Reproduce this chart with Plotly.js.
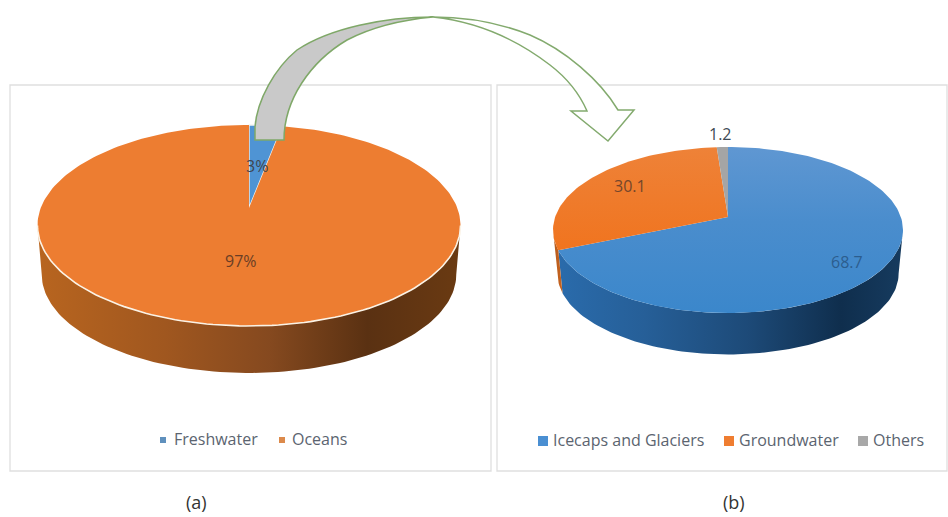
<!DOCTYPE html>
<html><head><meta charset="utf-8">
<script src="https://cdn.plot.ly/plotly-3.0.1.min.js"></script>
<style>html,body{margin:0;padding:0;background:#fff}</style></head>
<body><div id="chart" style="width:948px;height:517px"></div>
<script>
const categoriesA = ["Freshwater", "Oceans"];
const valuesA = [3, 97];
const categoriesB = ["Icecaps and Glaciers", "Groundwater", "Others"];
const valuesB = [68.7, 30.1, 1.2];

const FONT = "Open Sans, sans-serif";
const traces = [];
const annotations = [];

// Tilted-disc projection: clockwise angle from 12 o'clock onto the page.
function makePie(g) {
  const k = ((g.hub - g.top) - (g.bottom - g.hub)) / ((g.hub - g.top) + (g.bottom - g.hub));
  const a = (g.bottom - g.hub) * (1 + k);
  const c = g.rx * Math.sqrt(1 - k * k);
  const midY = (g.top + g.bottom) / 2;
  const pt = t => {
    const r = t * Math.PI / 180, u = Math.sin(r), v = -Math.cos(r), w = 1 + k * v;
    return [g.cx + c * u / w, g.hub + a * v / w];
  };
  const low = t => {
    const p = pt(t);
    return [g.cx + (p[0] - g.cx) * g.shrink, midY + (p[1] - midY) * g.shrink + g.depth];
  };
  // angle at which the projected disc is widest: the side wall begins there
  const d = midY - g.hub;
  const wide = Math.acos(-d / (a - k * d)) * 180 / Math.PI;
  return {pt, low, wide};
}
function arc(fn, t0, t1) {
  const n = Math.max(2, Math.ceil(Math.abs(t1 - t0) / 1.5)), out = [];
  for (let i = 0; i <= n; i++) out.push(fn(t0 + (t1 - t0) * i / n));
  return out;
}
function poly(pts, extra) {
  traces.push(Object.assign({
    type: "scatter", mode: "lines", fill: "toself", hoverinfo: "skip", showlegend: false,
    x: pts.map(p => p[0]), y: pts.map(p => p[1]), line: {width: 0}
  }, extra));
}
function drawPie(g, values, tops, walls) {
  const P = makePie(g);
  const total = values.reduce((s, v) => s + v, 0);
  let acc = 0;
  const spans = values.map(v => { const s = [acc, acc + v / total * 360]; acc = s[1]; return s; });
  // side wall: only the front of the disc shows
  spans.forEach((s, i) => {
    const t0 = Math.max(s[0], P.wide), t1 = Math.min(s[1], 360 - P.wide);
    if (t1 <= t0) return;
    const pts = arc(P.pt, t0, t1).concat(arc(P.low, t1, t0));
    poly(pts, {fillgradient: {type: "horizontal", colorscale: walls[i]}, fillcolor: walls[i][0][1]});
  });
  // top faces
  spans.forEach((s, i) => {
    const pts = [[g.cx, g.hub]].concat(arc(P.pt, s[0], s[1]));
    pts.push([g.cx, g.hub]);
    const extra = {line: g.edge && i === 0 ? {width: 1.3, color: "#f4f4f0"} : {width: 0}};
    if (Array.isArray(tops[i])) { extra.fillgradient = {type: "vertical", colorscale: tops[i]}; extra.fillcolor = tops[i][0][1]; }
    else extra.fillcolor = tops[i];
    poly(pts, extra);
  });
  if (g.edge) {
    const rim = arc(P.pt, P.wide, 360 - P.wide);
    traces.push({type: "scatter", mode: "lines", hoverinfo: "skip", showlegend: false,
      x: rim.map(p => p[0]), y: rim.map(p => p[1]), line: {color: "#fbf3e6", width: 1.6}});
  }
}

drawPie({cx: 249, top: 125, hub: 208, bottom: 326, rx: 211.5, depth: 49, shrink: 0.98, edge: true},
  valuesA,
  ["#4f94d4", "#ed7d31"],
  [[[0, "#2f6ca3"], [1, "#1d4a75"]],
   [[0, "#b8651f"], [0.3, "#a0571f"], [0.55, "#85491f"], [0.78, "#5a3112"], [1, "#6a3a12"]]]);

drawPie({cx: 728, top: 147, hub: 217, bottom: 313, rx: 175, depth: 43.5, shrink: 0.975, edge: false},
  valuesB,
  [[[0, "#3b87cb"], [0.55, "#4a8dcd"], [1, "#5f97d2"]],
   [[0, "#f0741f"], [1, "#ee8238"]],
   "#a5a5a5"],
  [[[0, "#2a6bab"], [0.25, "#265f98"], [0.55, "#1d4a78"], [0.82, "#0f2e4d"], [1, "#163b5f"]],
   [[0, "#b55a1c"], [1, "#c8641f"]],
   [[0, "#888"], [1, "#888"]]]);

// value labels
function label(x, y, text, color, size) {
  annotations.push({x, y, xref: "x", yref: "y", text, showarrow: false, xanchor: "center", yanchor: "middle",
    font: {family: FONT, size: size || 16, color}});
}
label(257, 166, valuesA[0] + "%", "#3f4650");
label(241, 261, valuesA[1] + "%", "#6a3d25");
label(847, 262, String(valuesB[0]), "#2c5d8e");
label(630, 186, String(valuesB[1]), "#74462b");
label(720, 134, String(valuesB[2]), "#404a55");

// key entries
function key(sx, sy, size, color, tx, text) {
  traces.push({type: "scatter", mode: "markers", hoverinfo: "skip", showlegend: false, x: [sx], y: [sy],
    marker: {symbol: "square", size, color, line: {width: 0}}});
  annotations.push({x: tx, y: sy - 1, xref: "x", yref: "y", text, showarrow: false, xanchor: "left", yanchor: "middle",
    xshift: -2, font: {family: FONT, size: 16, color: "#5b6470"}});
}
key(163, 440, 6, "#5f90bd", 174, categoriesA[0]);
key(282, 440, 6, "#dc8a4b", 292, categoriesA[1]);
key(543, 441, 10, "#4a8fd2", 553, categoriesB[0]);
key(729, 441, 10, "#ef7d31", 739, categoriesB[1]);
key(863, 441, 10, "#a8a8a8", 873, categoriesB[2]);

label(196, 502, "(a)", "#333", 18);
label(734, 502, "(b)", "#333", 18);

const frame = {color: "#dfdfdf", width: 1.3};
const shapes = [
  {type: "rect", xref: "x", yref: "y", x0: 10, x1: 491, y0: 85, y1: 471, line: frame, layer: "below"},
  {type: "rect", xref: "x", yref: "y", x0: 497, x1: 947, y0: 85, y1: 471, line: frame, layer: "below"},
  {type: "path", xref: "x", yref: "y", layer: "above", fillcolor: "#ffffff", line: {color: "#83aa6e", width: 1.5},
   path: "M 433,17 C 465,17 500,23 530,35 C 565,50 600,80 618,110 L 634,110 L 608,141 L 571,111 L 587,111 C 580,95 567,78 550,65 C 520,42 480,22 433,17 Z"},
  {type: "path", xref: "x", yref: "y", layer: "above", fillcolor: "#c9c9c9", line: {color: "#7fa868", width: 1.5},
   path: "M 255,140 L 255,127 C 257,100 275,68 297,50 C 330,28 385,17 433,17 C 400,20 372,27 347,40 C 310,62 284,100 284,140 Z"}
];

Plotly.newPlot("chart", traces, {
  width: 948, height: 517, autosize: false,
  margin: {l: 0, r: 0, t: 0, b: 0, pad: 0},
  paper_bgcolor: "#fff", plot_bgcolor: "#fff", showlegend: false,
  xaxis: {range: [0, 948], visible: false, fixedrange: true},
  yaxis: {range: [517, 0], visible: false, fixedrange: true},
  shapes, annotations
}, {staticPlot: true, displayModeBar: false});
</script></body></html>
